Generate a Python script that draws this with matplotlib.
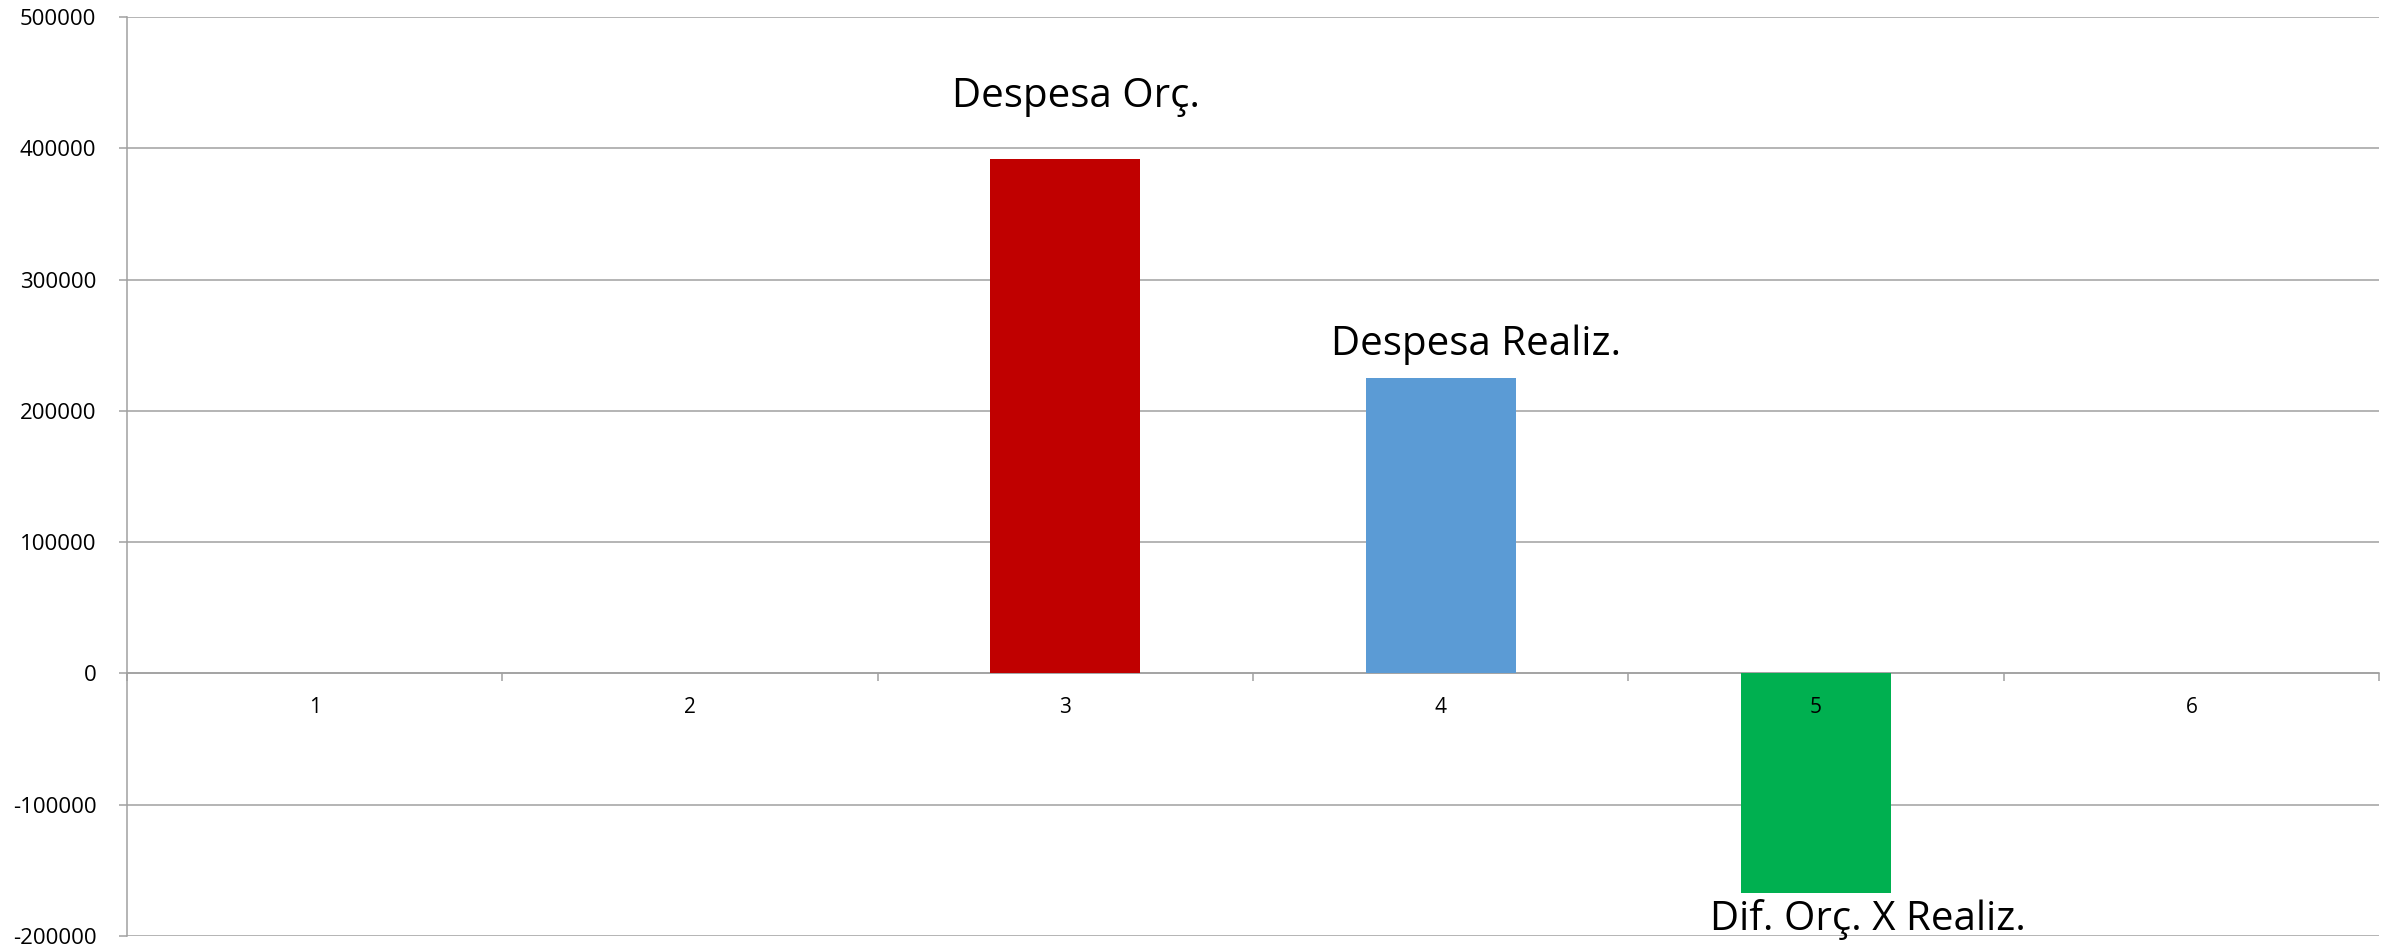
import numpy as np
from matplotlib import pyplot as plt

categories = ['1', '2', '3', '4', '5', '6']
values = [0, 0, 391500, 224700, -167600, 0]
bar_colors = ['#C00000', '#C00000', '#C00000', '#5B9BD5', '#00B050', '#00B050']
bar_labels = ['', '', 'Despesa Orç.', 'Despesa Realiz.', 'Dif. Orç. X Realiz.', '']

plt.rcParams['font.family'] = ['Open Sans', 'DejaVu Sans']
plt.rcParams['axes.unicode_minus'] = False
grid_color = '#a0a0a0'

fig = plt.figure(figsize=(23.96, 9.51), dpi=100)
ax = fig.add_axes([0.0530, 0.01577, 0.9399, 0.96633])

x = np.arange(1, len(categories) + 1)
ax.bar(x, values, width=0.4, color=bar_colors, zorder=3)

ax.set_xlim(0.5, 6.5)
ax.set_ylim(-200000, 500000)
ax.set_yticks(np.arange(-200000, 500001, 100000))
ax.yaxis.grid(True, color=grid_color, linewidth=1.1, zorder=0)

# x axis crosses at zero, ticks on category boundaries
ax.spines['bottom'].set_position(('data', 0))
ax.spines['bottom'].set_color(grid_color)
ax.spines['bottom'].set_linewidth(1.1)
ax.spines['left'].set_color(grid_color)
ax.spines['left'].set_linewidth(1.1)
ax.spines['top'].set_visible(False)
ax.spines['right'].set_visible(False)

ax.set_xticks(np.arange(0.5, 6.6, 1.0))
ax.set_xticklabels([])
ax.tick_params(axis='x', which='major', direction='out', length=6, width=1.1, color=grid_color)
ax.tick_params(axis='y', direction='out', length=6, width=1.1, color=grid_color, labelsize=16, pad=16)

# category labels drawn on top of the bars
for xi, c in zip(x, categories):
    ax.annotate(c, xy=(xi, 0), xytext=(0, -34), textcoords='offset pixels',
                ha='center', va='center', fontsize=15, zorder=5)

# series name labels next to the bars (offsets in pixels)
offsets = {2: (11, 52), 3: (35, 23), 4: (52, -37)}
for i, lab in enumerate(bar_labels):
    if lab == '':
        continue
    dx, dy = offsets[i]
    ax.annotate(lab, xy=(x[i], values[i]), xytext=(dx, dy), textcoords='offset pixels',
                ha='center', va='baseline', fontsize=29, zorder=4)

plt.savefig('out.png', dpi=100)
